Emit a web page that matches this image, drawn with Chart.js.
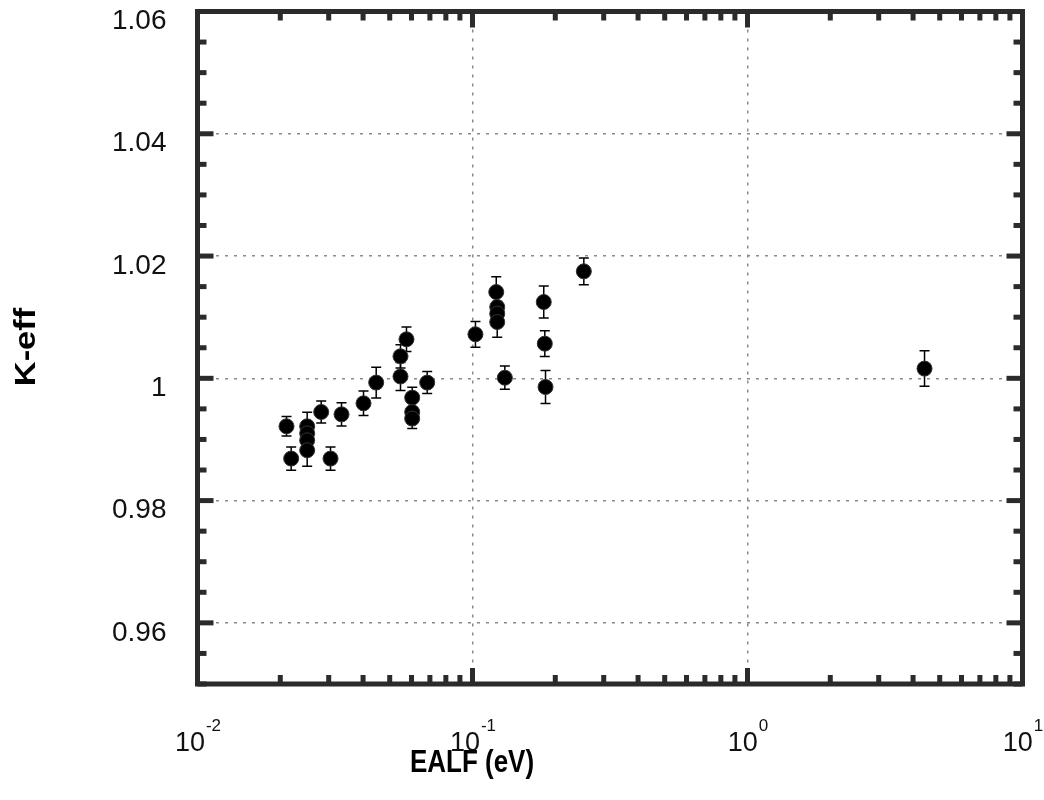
<!DOCTYPE html>
<html>
<head>
<meta charset="utf-8">
<script src="https://cdn.jsdelivr.net/npm/chart.js@4/dist/chart.umd.min.js"></script>
<style>
	html, body { margin: 0; padding: 0; background: #fff; }
	canvas { display: block; }
</style>
</head>
<body>
<canvas id="chart" width="1044" height="800"></canvas>
<script>
// EALF (eV) per case
const ealf = [0.02107, 0.02191, 0.02505, 0.02505, 0.02505, 0.02505, 0.02817, 0.03046, 0.03340, 0.04015,
	0.04465, 0.05472, 0.05472, 0.05754, 0.06036, 0.06036, 0.06036, 0.06843, 0.1025, 0.1220,
	0.1230, 0.1230, 0.1230, 0.1311, 0.1816, 0.1832, 0.1843, 0.2540, 4.403];
// k-eff and its 1-sigma uncertainty
const keff = [0.99215, 0.98687, 0.99215, 0.99100, 0.98986, 0.98823, 0.99449, 0.98687, 0.99411, 0.99591,
	0.99930, 1.00360, 1.00030, 1.00638, 0.99684, 0.99449, 0.99341, 0.99930, 1.00720, 1.01411,
	1.01166, 1.01058, 1.00921, 1.00010, 1.01248, 1.00567, 0.99858, 1.01750, 1.00159];
const keffErr = [0.0016, 0.0019, 0.0023, 0.0015, 0.0015, 0.0026, 0.0018, 0.0019, 0.0019, 0.0020,
	0.0025, 0.0019, 0.0023, 0.0020, 0.0017, 0.0015, 0.0016, 0.0018, 0.0021, 0.0025,
	0.0020, 0.0020, 0.0025, 0.0019, 0.0026, 0.0021, 0.0027, 0.0022, 0.0029];

// tick labels
const xTickValues = [0.01, 0.1, 1, 10];
const xTickExponents = ['-2', '-1', '0', '1'];
const yTickValues = [0.96, 0.98, 1.00, 1.02, 1.04, 1.06];
const yTickLabels = ['0.96', '0.98', '1', '1.02', '1.04', '1.06'];

(function () {
	'use strict';

	const frameColor = '#2b2b2b';
	const fontFamily = '"Liberation Sans", Arial, sans-serif';

	// error bars, drawn under the markers
	const errorBars = {
		id: 'errorBars',
		beforeDatasetsDraw(chart) {
			const ctx = chart.ctx;
			const xs = chart.scales.x, ys = chart.scales.y;
			ctx.save();
			ctx.strokeStyle = '#000';
			ctx.lineWidth = 1.5;
			ealf.forEach(function (x, i) {
				const px = xs.getPixelForValue(x);
				const top = ys.getPixelForValue(keff[i] + keffErr[i]);
				const bot = ys.getPixelForValue(keff[i] - keffErr[i]);
				ctx.beginPath();
				ctx.moveTo(px, top); ctx.lineTo(px, bot);
				ctx.moveTo(px - 5, top); ctx.lineTo(px + 5, top);
				ctx.moveTo(px - 5, bot); ctx.lineTo(px + 5, bot);
				ctx.stroke();
			});
			ctx.restore();
		}
	};

	// heavy frame, inward ticks and tick labels
	const frame = {
		id: 'frame',
		afterDraw(chart) {
			const ctx = chart.ctx;
			const a = chart.chartArea;
			const xs = chart.scales.x, ys = chart.scales.y;
			const w = 5;
			ctx.save();
			ctx.fillStyle = frameColor;

			// x ticks, top and bottom
			for (let e = -2; e < 1; e++) {
				for (let m = 1; m <= 9; m++) {
					const v = m * Math.pow(10, e);
					const px = xs.getPixelForValue(v);
					const len = m === 1 ? 16 : 9;
					if (m === 1 && e === -2) continue;
					ctx.fillRect(px - w / 2, a.top, w, len);
					ctx.fillRect(px - w / 2, a.bottom - len, w, len);
				}
			}
			// y ticks, left and right
			for (let k = 0; k <= 22; k++) {
				const v = 0.95 + k * 0.005;
				const py = ys.getPixelForValue(v);
				const major = (k % 4 === 2);
				const len = major ? 16 : 9;
				ctx.fillRect(a.left, py - w / 2, len, w);
				ctx.fillRect(a.right - len, py - w / 2, len, w);
			}

			ctx.strokeStyle = frameColor;
			ctx.lineWidth = w;
			ctx.strokeRect(a.left, a.top, a.right - a.left, a.bottom - a.top);

			// y tick labels
			ctx.fillStyle = '#111';
			ctx.font = '28px ' + fontFamily;
			ctx.textAlign = 'right';
			ctx.textBaseline = 'middle';
			yTickValues.forEach(function (v, i) {
				ctx.fillText(yTickLabels[i], a.left - 31, ys.getPixelForValue(v) + 10);
			});

			// x tick labels: 10 with superscript exponent
			ctx.textAlign = 'left';
			ctx.textBaseline = 'alphabetic';
			xTickValues.forEach(function (v, i) {
				const px = xs.getPixelForValue(v);
				ctx.font = '27px ' + fontFamily;
				const wBase = ctx.measureText('10').width;
				ctx.font = '17px ' + fontFamily;
				const wExp = ctx.measureText(xTickExponents[i]).width;
				const x0 = px - (wBase + wExp) / 2;
				ctx.font = '27px ' + fontFamily;
				ctx.fillText('10', x0, 751);
				ctx.font = '17px ' + fontFamily;
				ctx.fillText(xTickExponents[i], x0 + wBase + 1, 731);
			});

			// axis titles
			ctx.fillStyle = '#000';
			ctx.save();
			ctx.translate(472, 772);
			ctx.scale(1, 1.2);
			ctx.font = 'bold 26px ' + fontFamily;
			ctx.textAlign = 'center';
			ctx.fillText('EALF (eV)', 0, 0);
			ctx.restore();

			ctx.save();
			ctx.translate(35, 347);
			ctx.rotate(-Math.PI / 2);
			ctx.scale(1.15, 1);
			ctx.font = 'bold 30px ' + fontFamily;
			ctx.textAlign = 'center';
			ctx.fillText('K-eff', 0, 0);
			ctx.restore();

			ctx.restore();
		}
	};

	const gridColor = function (list) {
		return function (c) {
			const v = c.tick ? c.tick.value : null;
			return list.some(function (t) { return Math.abs(t - v) < 1e-9; }) ? '#8a8a8a' : 'rgba(0,0,0,0)';
		};
	};

	new Chart(document.getElementById('chart'), {
		type: 'scatter',
		data: {
			datasets: [{
				data: ealf.map(function (x, i) { return { x: x, y: keff[i] }; }),
				backgroundColor: '#000',
				borderColor: '#333',
				borderWidth: 1,
				pointRadius: 7.5,
				pointHoverRadius: 7.5
			}]
		},
		plugins: [errorBars, frame],
		options: {
			responsive: false,
			animation: false,
			events: [],
			layout: { padding: { top: 11.5, right: 21.5, left: 0, bottom: 0 } },
			plugins: { legend: false, tooltip: { enabled: false } },
			scales: {
				x: {
					type: 'logarithmic',
					min: 0.01,
					max: 10,
					afterBuildTicks(scale) {
						scale.ticks = xTickValues.map(function (v) { return { value: v }; });
					},
					afterFit(scale) { scale.height = 116; },
					ticks: { display: false },
					border: { display: false, dash: [3, 6] },
					grid: { color: gridColor([0.1, 1]), lineWidth: 1.5, drawTicks: false }
				},
				y: {
					type: 'linear',
					min: 0.95,
					max: 1.06,
					afterBuildTicks(scale) {
						scale.ticks = yTickValues.map(function (v) { return { value: v }; });
					},
					afterFit(scale) { scale.width = 197.5; },
					ticks: { display: false },
					border: { display: false, dash: [3, 6] },
					grid: { color: gridColor([0.96, 0.98, 1.00, 1.02, 1.04]), lineWidth: 1.5, drawTicks: false }
				}
			}
		}
	});
})();
</script>
</body>
</html>
